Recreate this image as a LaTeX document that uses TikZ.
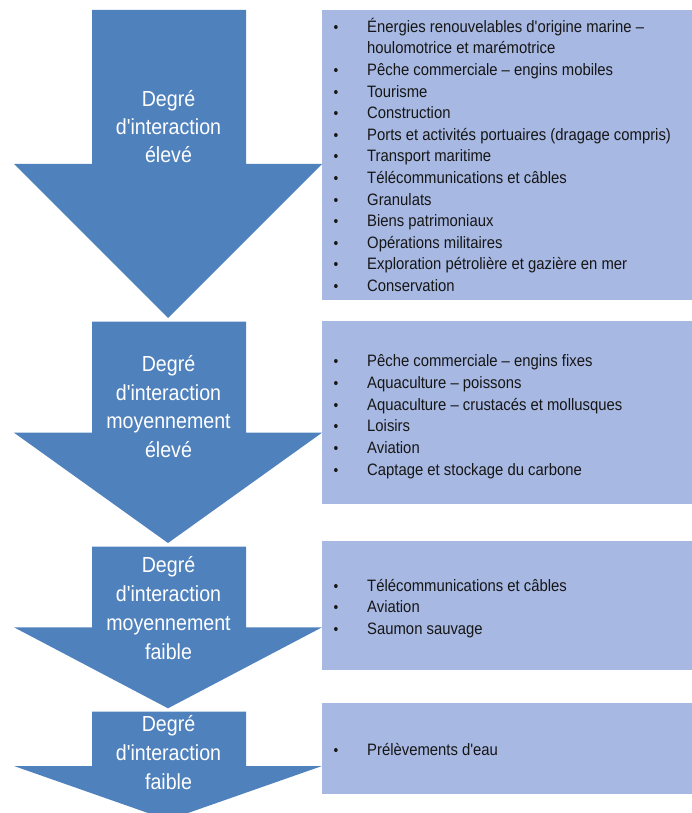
\documentclass[tikz,border=0pt]{standalone}
\usepackage{fontspec}
\setmainfont{Liberation Sans}[FakeStretch=0.9, Ligatures=TeXOff]
\definecolor{arrowblue}{HTML}{4F81BD}
\definecolor{boxblue}{HTML}{A7B8E2}
\definecolor{txtcol}{HTML}{161616}
\begin{document}
\begin{tikzpicture}[x=1pt,y=-1pt,
  arrowshape/.style={fill=arrowblue, draw=none},
  listbox/.style={fill=boxblue, draw=none},
  lbl/.style={anchor=base, text=white, font=\fontsize{21.8}{26}\selectfont, inner sep=0pt},
  itemtext/.style={anchor=base west, text=txtcol, font=\fontsize{16.5}{20}\selectfont, inner sep=0pt},
  bulletmark/.style={anchor=base, text=txtcol, font=\fontsize{15}{20}\selectfont, inner sep=0pt}]

\useasboundingbox (0,0) rectangle (692,813);
\clip (0,0) rectangle (692,813);

% arrows
\foreach \ya/\yb/\yc in {10/164/318, 321.7/432.7/543, 546.7/627.3/708.3, 711.7/766/820} {
  \fill[arrowshape] (92,\ya) -- (246,\ya) -- (246,\yb) -- (322,\yb) -- (168,\yc) -- (14,\yb) -- (92,\yb) -- cycle;
}

% boxes
\fill[listbox] (322,10.3) rectangle (692,300);
\fill[listbox] (322,321) rectangle (692,504.3);
\fill[listbox] (322,541) rectangle (692,670.3);
\fill[listbox] (322,703.3) rectangle (692,794.3);

% arrow labels
\node[lbl] (a1l1) at (168.5,106.7) {Degré};
\node[lbl] (a1l2) at (168.5,135) {d'interaction};
\node[lbl] (a1l3) at (168.5,163) {élevé};

\node[lbl] (a2l1) at (168.5,371) {Degré};
\node[lbl] (a2l2) at (168.5,400) {d'interaction};
\node[lbl] (a2l3) at (168.5,428.5) {moyennement};
\node[lbl] (a2l4) at (168.5,457.5) {élevé};

\node[lbl] (a3l1) at (168.5,572.7) {Degré};
\node[lbl] (a3l2) at (168.5,601.7) {d'interaction};
\node[lbl] (a3l3) at (168.5,630) {moyennement};
\node[lbl] (a3l4) at (168.5,659) {faible};

\node[lbl] (a4l1) at (168.5,731.7) {Degré};
\node[lbl] (a4l2) at (168.5,760.7) {d'interaction};
\node[lbl] (a4l3) at (168.5,789) {faible};

% box 1
\foreach \t [count=\i] in {{Énergies renouvelables d'origine marine –},
  {houlomotrice et marémotrice},
  {Pêche commerciale – engins mobiles},
  {Tourisme},
  {Construction},
  {Ports et activités portuaires (dragage compris)},
  {Transport maritime},
  {Télécommunications et câbles},
  {Granulats},
  {Biens patrimoniaux},
  {Opérations militaires},
  {Exploration pétrolière et gazière en mer},
  {Conservation}}
  \node[itemtext] (b1t\i) at (367,{32.3+21.6*(\i-1)}) {\t};
\foreach \i in {1,3,4,5,6,7,8,9,10,11,12,13}
  \node[bulletmark] (b1d\i) at (336,{32.3+21.6*(\i-1)}) {•};

% box 2
\foreach \t [count=\i] in {{Pêche commerciale – engins fixes},
  {Aquaculture – poissons},
  {Aquaculture – crustacés et mollusques},
  {Loisirs},
  {Aviation},
  {Captage et stockage du carbone}} {
  \node[itemtext] (b2t\i) at (367,{366.7+21.75*(\i-1)}) {\t};
  \node[bulletmark] (b2d\i) at (336,{366.7+21.75*(\i-1)}) {•};
}

% box 3
\foreach \t [count=\i] in {{Télécommunications et câbles},
  {Aviation},
  {Saumon sauvage}} {
  \node[itemtext] (b3t\i) at (367,{591+21.7*(\i-1)}) {\t};
  \node[bulletmark] (b3d\i) at (336,{591+21.7*(\i-1)}) {•};
}

% box 4
\node[itemtext] (b4t1) at (367,755.7) {Prélèvements d'eau};
\node[bulletmark] (b4d1) at (336,755.7) {•};

\end{tikzpicture}
\end{document}
